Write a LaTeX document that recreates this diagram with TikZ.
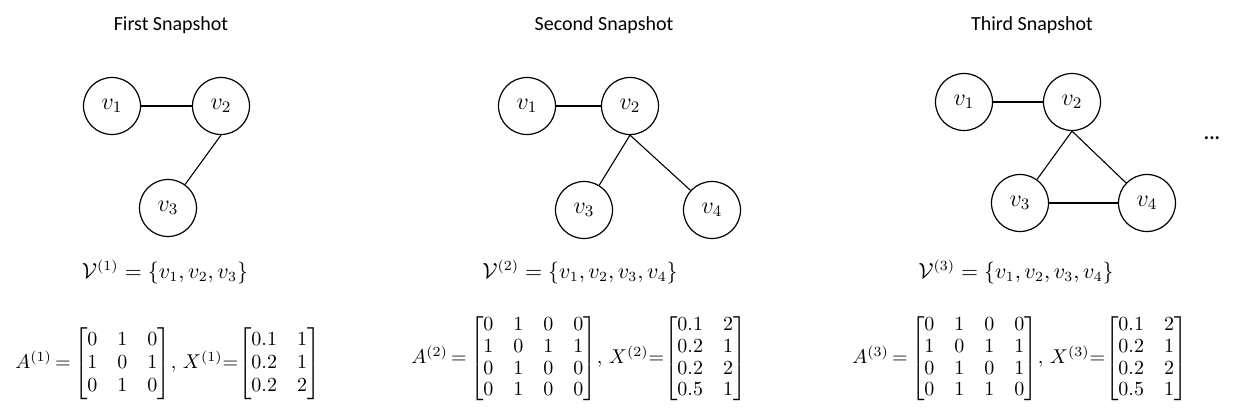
\documentclass[tikz,border=0pt]{standalone}
\usepackage{amsmath}
\usepackage{fontspec}
\newfontfamily\titlefont{Carlito}
\newcommand\mymatset{\thickmuskip=3mu\relax\arraycolsep=5pt\relax}
\begin{document}
\begin{tikzpicture}[x=0.5pt,y=-0.5pt,
  vert/.style={circle,draw,line width=0.6pt,minimum size=28.5pt,inner sep=0pt,font=\fontsize{12}{14}\selectfont},
  edge/.style={line width=0.55pt},
  ttl/.style={font=\titlefont\fontsize{10}{12}\selectfont},
  eq/.style={font=\fontsize{10.5}{12.6}\selectfont,inner sep=0pt},
  mata/.style={font=\fontsize{10}{11.6}\selectfont,inner sep=0pt,anchor=west},
  matb/.style={font=\fontsize{10}{10.8}\selectfont,inner sep=0pt,anchor=west}]
\useasboundingbox (0,0) rectangle (1249,411);
% titles
\node[ttl] (t1) at (171,25) {First Snapshot};
\node[ttl] (t2) at (604,25) {Second Snapshot};
\node[ttl] (t3) at (1032,25) {Third Snapshot};
% first graph
\node[vert] (a1) at (112,106) {$v_1$};
\node[vert] (a2) at (221,106) {$v_2$};
\node[vert] (a3) at (168,208) {$v_3$};
\draw[edge] (a1) -- (a2);
\draw[edge] (a2.south) -- (a3);
% second graph
\node[vert] (b1) at (527,106) {$v_1$};
\node[vert] (b2) at (630,106) {$v_2$};
\node[vert] (b3) at (584,210) {$v_3$};
\node[vert] (b4) at (712,210) {$v_4$};
\draw[edge] (b1) -- (b2);
\draw[edge] (b2.south) -- (b3);
\draw[edge] (b2.south) -- (b4);
% third graph
\node[vert] (c1) at (964,102) {$v_1$};
\node[vert] (c2) at (1072,102) {$v_2$};
\node[vert] (c3) at (1020,203) {$v_3$};
\node[vert] (c4) at (1147,203) {$v_4$};
\draw[edge] (c1) -- (c2);
\draw[edge] (c2.south) -- (c3);
\draw[edge] (c2.south) -- (c4);
\draw[edge] (c3) -- (c4);
\node[ttl,font=\titlefont\bfseries\fontsize{10}{12}\selectfont] (dots) at (1212,138) {...};
% vertex sets
\node[eq] (s1) at (165,272) {$\mathcal{V}^{(1)}=\{v_1,v_2,v_3\}$};
\node[eq] (s2) at (580,272) {$\mathcal{V}^{(2)}=\{v_1,v_2,v_3,v_4\}$};
\node[eq] (s3) at (1016,272) {$\mathcal{V}^{(3)}=\{v_1,v_2,v_3,v_4\}$};
% matrices
\node[mata] (m1) at (15,364) {\mymatset$A^{(1)}=\begin{bmatrix}0&1&0\\1&0&1\\0&1&0\end{bmatrix}\!,\,X^{(1)}\!=\!\begin{bmatrix}0.1&1\\0.2&1\\0.2&2\end{bmatrix}$};
\node[matb] (m2) at (411,359) {\mymatset$A^{(2)}=\begin{bmatrix}0&1&0&0\\1&0&1&1\\0&1&0&0\\0&1&0&0\end{bmatrix}\!,\,X^{(2)}\!=\!\begin{bmatrix}0.1&2\\0.2&1\\0.2&2\\0.5&1\end{bmatrix}$};
\node[matb] (m3) at (852,359) {\mymatset$A^{(3)}=\begin{bmatrix}0&1&0&0\\1&0&1&1\\0&1&0&1\\0&1&1&0\end{bmatrix}\!,\,X^{(3)}\!=\!\begin{bmatrix}0.1&2\\0.2&1\\0.2&2\\0.5&1\end{bmatrix}$};
\end{tikzpicture}
\end{document}
